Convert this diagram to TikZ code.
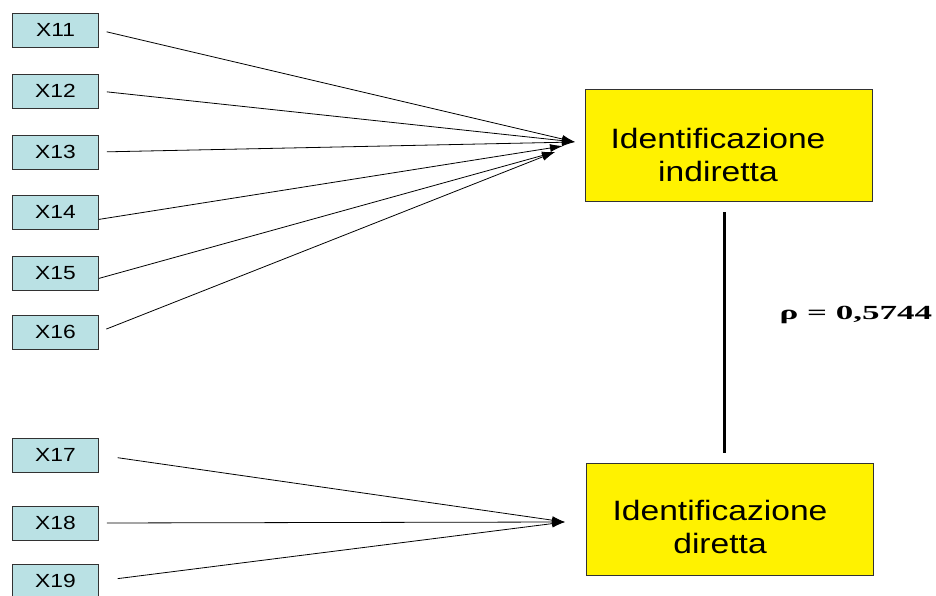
\documentclass[tikz,border=0pt]{standalone}
\usepackage{fontspec}
\setmainfont[FakeStretch=1.2]{Liberation Sans}
\newfontfamily\rhofont[FakeStretch=1.75]{Liberation Serif}
\usepackage{xcolor}
\usepackage{tikz}
\usetikzlibrary{
    arrows.meta,
    positioning
}
\definecolor{itemblue}{RGB}{186,225,228}
\definecolor{boxedge}{RGB}{50,50,50}

\begin{document}
\begin{tikzpicture}[x=1pt,y=-1pt,>={Latex[length=13pt,width=8pt]},semithick]
    \tikzstyle{every item}=[draw=boxedge, fill=itemblue, line width=0.8pt, minimum width=86pt, minimum height=34pt, inner sep=0pt, font=\fontsize{19}{20}\selectfont]
    \tikzstyle{every factor}=[draw=boxedge, fill=yellow, line width=0.8pt, minimum width=287pt, minimum height=112pt, align=center, font=\fontsize{28}{33}\selectfont]
    \tikzstyle{path}=[->, line width=0.8pt, shorten <=8pt]
    \useasboundingbox (0,0) rectangle (936,596);

	\node[every item] (x11) at (55.5, 30) {X11};
	\node[every item] (x12) at (55.5, 91) {X12};
	\node[every item] (x13) at (55.5, 152) {X13};
	\node[every item] (x14) at (55.5, 212) {X14};
	\node[every item] (x15) at (55.5, 273) {X15};
	\node[every item] (x16) at (55.5, 332) {X16};

	\node[every item] (x17) at (55.5, 455) {X17};
	\node[every item] (x18) at (55.5, 523) {X18};
	\node[every item] (x19) at (55.5, 581) {X19};

	\node[every factor] (indir) at (728.5, 145) {};
	\node[every factor] (dir) at (729.5, 519) {};
	\node[align=center, font=\fontsize{28}{33}\selectfont] (indirtxt) at (718, 155) {Identificazione\\ indiretta};
	\node[align=center, font=\fontsize{28}{33}\selectfont] (dirtxt) at (720, 527) {Identificazione\\ diretta};

	% arrow tips
	\coordinate (tipA) at (575, 142);
	\coordinate (tipB) at (563, 146);
	\coordinate (tipC) at (555, 152);
	\coordinate (tipE) at (565, 522);

	\draw [path] (x11.east) -- (tipA);
	\draw [path] (x12.east) -- (tipA);
	\draw [path] (x13.east) -- (tipA);
	\draw [path, shorten <=0pt] (x14.south east) ++(0,-10) -- (tipB);
	\draw [path, shorten <=0pt] (x15.south east) ++(0,-12) -- (tipC);
	\draw [path] (x16.east) -- (tipC);

	\draw [path, shorten <=19pt] (x17.east) -- (tipE);
	\draw [path] (x18.east) -- (tipE);
	\draw [path, shorten <=19pt] (x19.east) -- (tipE);

	\draw [line width=3.5pt, shorten <=11pt, shorten >=10pt] ([xshift=-4pt]indir.south) -- ([xshift=-5pt]dir.north);

	\node [anchor=base west] (rho) at (776, 319) {\rhofont\bfseries\fontsize{20}{22}\selectfont ρ = 0,5744};
    \end{tikzpicture}
\end{document}
